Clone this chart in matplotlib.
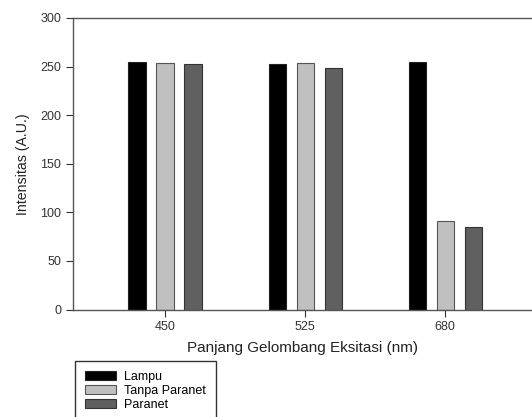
import numpy as np
from matplotlib import pyplot as plt

plt.rcParams['font.family'] = ['Liberation Sans', 'DejaVu Sans']

wavelengths = ['450', '525', '680']
lampu = [255, 253, 255]
tanpa_paranet = [254, 254, 91]
paranet = [253, 249, 85]

fig = plt.figure(figsize=(5.32, 4.17), dpi=100)
ax = fig.add_axes([73 / 532, 1 - 309.5 / 417, 1 - 73 / 532, (309.5 - 18) / 417])

x = np.arange(len(wavelengths))
w = 0.122
ax.bar(x - 0.2, lampu, w, color='#000000', edgecolor='#222222', linewidth=0.8, label='Lampu')
ax.bar(x, tanpa_paranet, w, color='#c0c0c0', edgecolor='#555555', linewidth=0.8, label='Tanpa Paranet')
ax.bar(x + 0.2, paranet, w, color='#606060', edgecolor='#333333', linewidth=0.8, label='Paranet')

ax.set_xlim(-0.657, 2.62)
ax.set_ylim(0, 300)
ax.set_xticks(x)
ax.set_xticklabels(wavelengths)
ax.set_yticks(range(0, 301, 50))
ax.tick_params(axis='both', labelsize=9, colors='#333333', length=5, width=0.8)
ax.tick_params(axis='x', pad=3)
for s in ['left', 'bottom', 'top']:
    ax.spines[s].set_color('#555555')
    ax.spines[s].set_linewidth(1.0)
ax.spines['right'].set_visible(False)

ax.set_xlabel('Panjang Gelombang Eksitasi (nm)', fontsize=11, color='#222222', labelpad=6)
ax.set_ylabel('Intensitas (A.U.)', fontsize=10.2, color='#222222', labelpad=7)

leg = fig.legend(loc='upper left', bbox_to_anchor=(75 / 532, 1 - 361 / 417), fontsize=9,
                 frameon=True, fancybox=False, edgecolor='#333333', framealpha=1,
                 handlelength=2.5, handleheight=0.7, handletextpad=0.6,
                 labelspacing=0.15, borderpad=0.8, borderaxespad=0)
leg.get_frame().set_linewidth(1.0)

fig.savefig('out.png', dpi=100)
